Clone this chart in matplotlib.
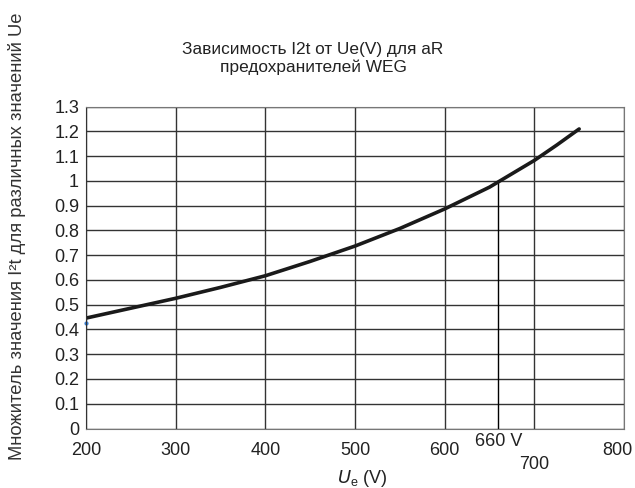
import matplotlib.pyplot as plt
import matplotlib.transforms as mtransforms

plt.rcParams["font.family"] = ["Liberation Sans", "DejaVu Sans"]

# ------------------------------------------------------
# Data
# ------------------------------------------------------

voltage = [200, 250, 300, 350, 400, 450, 500, 550, 600, 650, 700, 725, 750]
multiplier = [0.446, 0.486, 0.526, 0.570, 0.617, 0.675, 0.737, 0.808,
              0.887, 0.975, 1.083, 1.145, 1.21]

marker_u = 660
marker_value = 1.0

x_ticks = [200, 300, 400, 500, 600, 700, 800]
y_ticks = [0, 0.1, 0.2, 0.3, 0.4, 0.5, 0.6, 0.7, 0.8, 0.9, 1, 1.1, 1.2, 1.3]
y_labels = ["0", "0.1", "0.2", "0.3", "0.4", "0.5", "0.6", "0.7", "0.8",
            "0.9", "1", "1.1", "1.2", "1.3"]

# ------------------------------------------------------
# Figure
# ------------------------------------------------------

fig = plt.figure(figsize=(6.35, 4.88), dpi=100)
ax = fig.add_axes([86 / 635, 1 - 428.5 / 488, 538 / 635, 321.8 / 488])

ax.set_xlim(200, 800)
ax.set_ylim(0, 1.3)

ax.set_xticks(x_ticks)
ax.set_xticklabels([str(v) for v in x_ticks])
ax.set_yticks(y_ticks)
ax.set_yticklabels(y_labels)
ax.tick_params(length=0, labelsize=13, colors="#222222")
ax.tick_params(axis="x", pad=10)
ax.tick_params(axis="y", pad=5)

# 700 label sits lower than the others
ax.xaxis.get_major_ticks()[5].set_pad(20)

# 800 label is pulled left to stay inside the picture
lab800 = ax.get_xticklabels()[6]
lab800.set_transform(lab800.get_transform() +
                     mtransforms.ScaledTranslation(-7 / 100, 0, fig.dpi_scale_trans))

ax.grid(True, color="#333333", linewidth=1.0)
ax.set_axisbelow(True)
for side in ["top", "right", "bottom"]:
    ax.spines[side].set_color("#777777")
ax.spines["left"].set_color("#333333")

# 660 V marker line
ax.plot([marker_u, marker_u], [0, marker_value], color="black", linewidth=1.0)

trans = mtransforms.blended_transform_factory(ax.transData, ax.transAxes)
ax.text(marker_u, -0.015, "660 V", transform=trans, ha="center", va="top",
        fontsize=13, color="#222222")

# curve
ax.plot(voltage, multiplier, color="#1a1a1a", linewidth=2.6,
        solid_capstyle="round")

# stray point
ax.plot([200], [0.425], "o", color="#3a7fd0", markersize=2, clip_on=False)

# ------------------------------------------------------
# Labels
# ------------------------------------------------------

fig.text(0.493, 0.880, "Зависимость I2t от Ue(V) для aR\nпредохранителей WEG",
         ha="center", va="center", fontsize=12.4, color="#222222",
         linespacing=1.25)

fig.text(0.027, 0.515, "Множитель значения I²t для различных значений Ue",
         rotation=90, ha="center", va="center", fontsize=13.2, color="#333333")

fig.text(0.57, 0.02, r"$\mathit{U}_\mathregular{e}$ (V)", ha="center",
         va="center", fontsize=13, color="#222222")

fig.savefig("out.png", dpi=100)
